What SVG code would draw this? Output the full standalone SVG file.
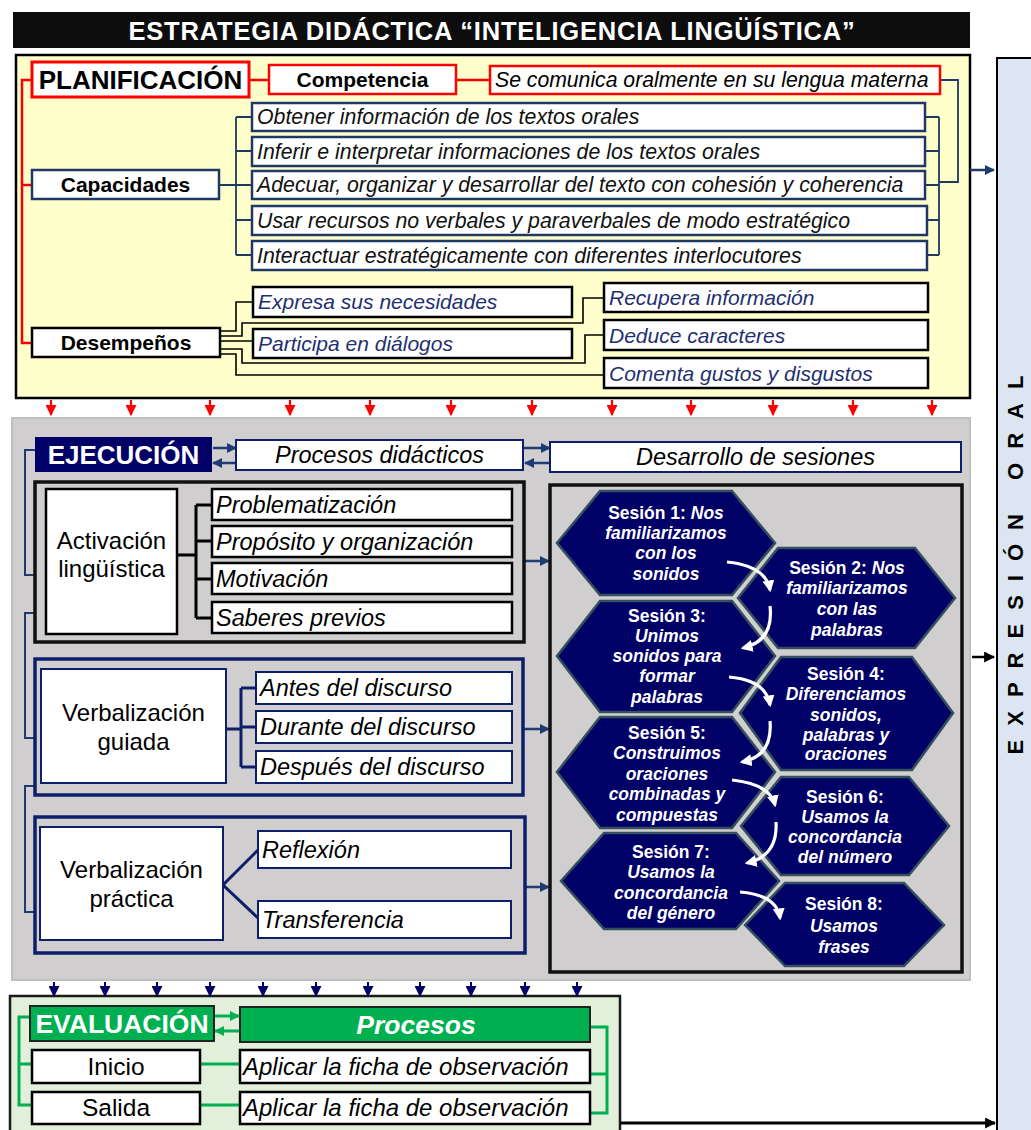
<svg xmlns="http://www.w3.org/2000/svg" width="1031" height="1130" viewBox="0 0 1031 1130">
<style>
text{font-family:"Liberation Sans",Arial,sans-serif}
.b{font-weight:bold}
.i{font-style:italic}
.m{text-anchor:middle}
.wb{fill:#fff;stroke:#000;stroke-width:2.5}
.cap{fill:#fff;stroke:#1F3864;stroke-width:2.5}
.nv{fill:#fff;stroke:#0D1F6B;stroke-width:2}
.ln{fill:none;stroke-linejoin:miter}
.hex{fill:#000066;stroke:#34505E;stroke-width:2.5}
.ht{fill:#fff;font-weight:bold;font-size:17.5px;text-anchor:middle}
.ht tspan.e{font-style:italic}
</style>
<defs>
<marker id="ar" viewBox="0 0 10 10" refX="9" refY="5" markerWidth="11" markerHeight="11" markerUnits="userSpaceOnUse" orient="auto"><path d="M0,0L10,5L0,10z" fill="#FF0000"/></marker>
<marker id="an" viewBox="0 0 10 10" refX="9" refY="5" markerWidth="11" markerHeight="11" markerUnits="userSpaceOnUse" orient="auto"><path d="M0,0L10,5L0,10z" fill="#000066"/></marker>
<marker id="ab" viewBox="0 0 10 10" refX="9" refY="5" markerWidth="10" markerHeight="10" markerUnits="userSpaceOnUse" orient="auto"><path d="M0,0L10,5L0,10z" fill="#1F3B73"/></marker>
<marker id="ak" viewBox="0 0 10 10" refX="9" refY="5" markerWidth="11" markerHeight="11" markerUnits="userSpaceOnUse" orient="auto"><path d="M0,0L10,5L0,10z" fill="#000"/></marker>
<marker id="ag" viewBox="0 0 10 10" refX="9" refY="5" markerWidth="10" markerHeight="10" markerUnits="userSpaceOnUse" orient="auto"><path d="M0,0L10,5L0,10z" fill="#00B050"/></marker>
<marker id="aw" viewBox="0 0 10 10" refX="8" refY="5" markerWidth="12" markerHeight="12" markerUnits="userSpaceOnUse" orient="auto"><path d="M0,0L10,5L0,10z" fill="#fff"/></marker>
</defs>

<!-- Backgrounds -->
<g id="title">
<rect x="13" y="12" width="957" height="36" fill="#0D0D0D"/>
<text x="492" y="40" class="b m" font-size="25.5" letter-spacing="0.8" fill="#fff">ESTRATEGIA DIDÁCTICA “INTELIGENCIA LINGÜÍSTICA”</text>
</g>
<rect id="plan-bg" x="16" y="55" width="954" height="343" fill="#FFFFCC" stroke="#000" stroke-width="2.5"/>
<rect id="ejec-bg" x="12" y="418" width="958" height="562" fill="#D0CECE" stroke="#BFBFBF" stroke-width="2"/>
<rect id="eval-bg" x="10" y="996" width="610" height="140" fill="#E2EFDA" stroke="#1a1a1a" stroke-width="2.5"/>
<g id="expresion-oral">
<rect x="997" y="58" width="40" height="1080" fill="#DCE6F2" stroke="#000" stroke-width="2"/>
<text transform="translate(1023,558) rotate(-90)" class="b m" font-size="22" letter-spacing="14" fill="#000">EXPRESIÓN ORAL</text>
</g>

<!-- Connectors -->
<g id="connectors">
<g class="ln" stroke="#FF0000" stroke-width="2.5">
<path d="M249,80H269M456,80H490M32,80H22V343H32M22,185H32"/>
</g>
<g class="ln" stroke="#1F3864" stroke-width="1.8">
<path d="M219,185H236M236,117V255M236,117H252M236,151H252M236,185H252M236,220H252M236,255H252"/>
<path d="M925,117H939M925,151H939M925,185H939M925,220H939M925,255H939M939,117V255M940,80H958V182H939"/>
<path d="M970,170H994" marker-end="url(#ab)" stroke-width="2.5"/>
</g>
<g class="ln" stroke="#000" stroke-width="1.6">
<path d="M220,331H236V302H253"/>
<path d="M220,336H242V323H583V298H604"/>
<path d="M220,341H253"/>
<path d="M220,349H242V363H585V335H604"/>
<path d="M220,354H236V375H604"/>
</g>
<g class="ln" stroke="#FF0000" stroke-width="2.2">
<path d="M51,400V415" marker-end="url(#ar)"/><path d="M131,400V415" marker-end="url(#ar)"/><path d="M210,400V415" marker-end="url(#ar)"/><path d="M290,400V415" marker-end="url(#ar)"/><path d="M370,400V415" marker-end="url(#ar)"/><path d="M451,400V415" marker-end="url(#ar)"/><path d="M532,400V415" marker-end="url(#ar)"/><path d="M612,400V415" marker-end="url(#ar)"/><path d="M691,400V415" marker-end="url(#ar)"/><path d="M773,400V415" marker-end="url(#ar)"/><path d="M853,400V415" marker-end="url(#ar)"/><path d="M932,400V415" marker-end="url(#ar)"/>
</g>
<g class="ln" stroke="#1F3B73" stroke-width="2.5">
<path d="M213,448H236" marker-end="url(#ab)"/><path d="M235,463H213" marker-end="url(#ab)"/>
<path d="M524,448H550" marker-end="url(#ab)"/><path d="M549,463H525" marker-end="url(#ab)"/>
<path d="M524,561H549" marker-end="url(#ab)"/>
<path d="M523,729H549" marker-end="url(#ab)"/>
<path d="M525,887H549" marker-end="url(#ab)"/>
</g>
<g class="ln" stroke="#1F3B73" stroke-width="2">
<path d="M35,450H25V575H35M35,613H25V738H35M35,786H25V912H35"/>
</g>
<g class="ln" stroke="#000" stroke-width="3">
<path d="M177,555H196M196,505V618M196,505H212M196,541H212M196,579H212M196,618H212"/>
</g>
<g class="ln" stroke="#0D1F6B" stroke-width="3">
<path d="M226,729H241M241,688V767M241,688H256M241,727H256M241,767H256"/>
<path d="M258,850L223,885L258,918"/>
</g>
<g class="ln" stroke="#000066" stroke-width="2">
<path d="M54,982V996" marker-end="url(#an)"/><path d="M105,982V996" marker-end="url(#an)"/><path d="M157,982V996" marker-end="url(#an)"/><path d="M210,982V996" marker-end="url(#an)"/><path d="M263,982V996" marker-end="url(#an)"/><path d="M316,982V996" marker-end="url(#an)"/><path d="M368,982V996" marker-end="url(#an)"/><path d="M420,982V996" marker-end="url(#an)"/><path d="M471,982V996" marker-end="url(#an)"/><path d="M525,982V996" marker-end="url(#an)"/><path d="M577,982V996" marker-end="url(#an)"/>
</g>
<g class="ln" stroke="#00B050" stroke-width="3">
<path d="M215,1016H239" marker-end="url(#ag)"/><path d="M239,1031H215" marker-end="url(#ag)"/>
<path d="M30,1017H19V1105H32M19,1064H32M200,1064H240M200,1105H240M590,1027H607V1113H590M590,1074H607"/>
</g>
<g class="ln" stroke="#000" stroke-width="2.5">
<path d="M972,657H994" marker-end="url(#ak)"/>
<path d="M620,1123H995" marker-end="url(#ak)" stroke-width="3"/>
</g>
</g>

<!-- Planificación nodes -->
<g id="planificacion">
<rect x="32" y="62" width="217" height="35" fill="#fff" stroke="#FF0000" stroke-width="3"/>
<text x="140.5" y="89" class="b m" font-size="26">PLANIFICACIÓN</text>
</g>
<g id="competencia">
<rect x="269" y="65" width="187" height="29" fill="#fff" stroke="#FF0000" stroke-width="2.5"/>
<text x="362.5" y="87" class="b m" font-size="21">Competencia</text>
</g>
<g id="se-comunica">
<rect x="490" y="66" width="450" height="28" fill="#fff" stroke="#FF0000" stroke-width="2.5"/>
<text x="495" y="87" class="i" font-size="21.2">Se comunica oralmente en su lengua materna</text>
</g>
<g id="capacidades">
<rect x="32" y="170" width="187" height="29" class="cap"/>
<text x="125.5" y="192" class="b m" font-size="21">Capacidades</text>
</g>
<g id="cap1"><rect x="252" y="103" width="673" height="28" class="cap"/><text x="257" y="124" class="i" font-size="21.3" fill="#111">Obtener información de los textos orales</text></g>
<g id="cap2"><rect x="252" y="137" width="673" height="29" class="cap"/><text x="257" y="159" class="i" font-size="21.3" fill="#111">Inferir e interpretar informaciones de los textos orales</text></g>
<g id="cap3"><rect x="252" y="171" width="673" height="28" class="cap"/><text x="257" y="192" class="i" font-size="21.3" fill="#111">Adecuar, organizar y desarrollar del texto con cohesión y coherencia</text></g>
<g id="cap4"><rect x="252" y="206" width="675" height="29" class="cap"/><text x="257" y="228" class="i" font-size="21.3" fill="#111">Usar recursos no verbales y paraverbales de modo estratégico</text></g>
<g id="cap5"><rect x="252" y="241" width="675" height="29" class="cap"/><text x="257" y="263" class="i" font-size="21.3" fill="#111">Interactuar estratégicamente con diferentes interlocutores</text></g>
<g id="desempenos">
<rect x="32" y="328" width="188" height="29" class="wb"/>
<text x="126" y="350" class="b m" font-size="21">Desempeños</text>
</g>
<g id="des1"><rect x="253" y="287" width="319" height="30" class="wb"/><text x="258" y="309" class="i" font-size="21" fill="#1F2F6F">Expresa sus necesidades</text></g>
<g id="des2"><rect x="253" y="329" width="319" height="29" class="wb"/><text x="258" y="351" class="i" font-size="21" fill="#1F2F6F">Participa en diálogos</text></g>
<g id="des3"><rect x="604" y="283" width="324" height="29" class="wb"/><text x="609" y="305" class="i" font-size="21" fill="#1F2F6F">Recupera información</text></g>
<g id="des4"><rect x="604" y="320" width="324" height="30" class="wb"/><text x="609" y="343" class="i" font-size="21" fill="#1F2F6F">Deduce caracteres</text></g>
<g id="des5"><rect x="604" y="358" width="324" height="30" class="wb"/><text x="609" y="381" class="i" font-size="21" fill="#1F2F6F">Comenta gustos y disgustos</text></g>

<!-- Ejecución nodes -->
<g id="ejecucion">
<rect x="35" y="437" width="177" height="35" fill="#000066"/>
<text x="123.5" y="464" class="b m" font-size="26" fill="#fff">EJECUCIÓN</text>
</g>
<g id="procesos-didacticos"><rect x="236" y="440" width="287" height="30" class="nv"/><text x="379.5" y="463" class="i m" font-size="23.5">Procesos didácticos</text></g>
<g id="desarrollo-sesiones"><rect x="550" y="442" width="411" height="30" class="nv"/><text x="755.5" y="465" class="i m" font-size="23.5">Desarrollo de sesiones</text></g>

<g id="activacion">
<rect x="35" y="482" width="489" height="160" fill="none" stroke="#111" stroke-width="3.5"/>
<rect x="46" y="489" width="131" height="145" class="wb" stroke-width="2"/>
<text x="111.5" y="549" class="m" font-size="24">Activación</text>
<text x="111.5" y="577" class="m" font-size="24">lingüística</text>
</g>
<g id="act1"><rect x="212" y="489" width="300" height="31" class="wb" stroke-width="2"/><text x="216" y="513" class="i" font-size="23.5">Problematización</text></g>
<g id="act2"><rect x="212" y="526" width="300" height="31" class="wb" stroke-width="2"/><text x="216" y="550" class="i" font-size="23.5">Propósito y organización</text></g>
<g id="act3"><rect x="212" y="563" width="300" height="31" class="wb" stroke-width="2"/><text x="216" y="587" class="i" font-size="23.5">Motivación</text></g>
<g id="act4"><rect x="212" y="602" width="300" height="31" class="wb" stroke-width="2"/><text x="216" y="626" class="i" font-size="23.5">Saberes previos</text></g>

<g id="verb-guiada">
<rect x="35" y="659" width="488" height="136" fill="none" stroke="#0D1F6B" stroke-width="3.5"/>
<rect x="41" y="669" width="185" height="114" class="nv"/>
<text x="133.5" y="721" class="m" font-size="24">Verbalización</text>
<text x="133.5" y="750" class="m" font-size="24">guiada</text>
</g>
<g id="vg1"><rect x="256" y="672" width="256" height="32" class="nv"/><text x="260" y="696" class="i" font-size="23.5">Antes del discurso</text></g>
<g id="vg2"><rect x="256" y="711" width="256" height="32" class="nv"/><text x="260" y="735" class="i" font-size="23.5">Durante del discurso</text></g>
<g id="vg3"><rect x="256" y="751" width="256" height="32" class="nv"/><text x="260" y="775" class="i" font-size="23.5">Después del discurso</text></g>

<g id="verb-practica">
<rect x="35" y="817" width="490" height="136" fill="none" stroke="#0D1F6B" stroke-width="3.5"/>
<rect x="40" y="827" width="183" height="113" class="nv"/>
<text x="131.5" y="878" class="m" font-size="24">Verbalización</text>
<text x="131.5" y="907" class="m" font-size="24">práctica</text>
</g>
<g id="vp1"><rect x="258" y="831" width="253" height="37" class="nv"/><text x="262" y="858" class="i" font-size="23.5">Reflexión</text></g>
<g id="vp2"><rect x="258" y="901" width="253" height="37" class="nv"/><text x="262" y="928" class="i" font-size="23.5">Transferencia</text></g>

<rect id="sesiones-frame" x="550" y="485" width="412" height="487" fill="none" stroke="#111" stroke-width="3.5"/>
<g id="s1"><polygon class="hex" points="557,543 600,491 732,491 775,543 732,595 600,595"/>
<text class="ht"><tspan x="666" y="519">Sesión 1: <tspan class="e">Nos</tspan></tspan><tspan x="666" y="539" class="e">familiarizamos</tspan><tspan x="666" y="559" class="e">con los</tspan><tspan x="666" y="580" class="e">sonidos</tspan></text></g>
<g id="s2"><polygon class="hex" points="738,598 778,548 915,548 955,598 915,648 778,648"/>
<text class="ht"><tspan x="847" y="574">Sesión 2: <tspan class="e">Nos</tspan></tspan><tspan x="847" y="594" class="e">familiarizamos</tspan><tspan x="847" y="615" class="e">con las</tspan><tspan x="847" y="636" class="e">palabras</tspan></text></g>
<g id="s3"><polygon class="hex" points="557,656 600,601 732,601 775,656 732,712 600,712"/>
<text class="ht"><tspan x="667" y="622">Sesión 3:</tspan><tspan x="667" y="642" class="e">Unimos</tspan><tspan x="667" y="662" class="e">sonidos para</tspan><tspan x="667" y="682" class="e">formar</tspan><tspan x="667" y="703" class="e">palabras</tspan></text></g>
<g id="s4"><polygon class="hex" points="740,713 781,657 912,657 953,713 912,770 781,770"/>
<text class="ht"><tspan x="846" y="680">Sesión 4:</tspan><tspan x="846" y="700" class="e">Diferenciamos</tspan><tspan x="846" y="721" class="e">sonidos,</tspan><tspan x="846" y="741" class="e">palabras y</tspan><tspan x="846" y="760" class="e">oraciones</tspan></text></g>
<g id="s5"><polygon class="hex" points="557,772 600,717 732,717 775,772 732,828 600,828"/>
<text class="ht"><tspan x="667" y="739">Sesión 5:</tspan><tspan x="667" y="759" class="e">Construimos</tspan><tspan x="667" y="780" class="e">oraciones</tspan><tspan x="667" y="800" class="e">combinadas y</tspan><tspan x="667" y="821" class="e">compuestas</tspan></text></g>
<g id="s6"><polygon class="hex" points="741,826 781,777 909,777 949,826 909,875 781,875"/>
<text class="ht"><tspan x="845" y="803">Sesión 6:</tspan><tspan x="845" y="823" class="e">Usamos la</tspan><tspan x="845" y="843" class="e">concordancia</tspan><tspan x="845" y="863" class="e">del número</tspan></text></g>
<g id="s7"><polygon class="hex" points="561,881 604,833 736,833 779,881 736,929 604,929"/>
<text class="ht"><tspan x="671" y="858">Sesión 7:</tspan><tspan x="671" y="878" class="e">Usamos la</tspan><tspan x="671" y="899" class="e">concordancia</tspan><tspan x="671" y="919" class="e">del género</tspan></text></g>
<g id="s8"><polygon class="hex" points="745,925 785,883 904,883 944,925 904,966 785,966"/>
<text class="ht"><tspan x="844" y="910">Sesión 8:</tspan><tspan x="844" y="932" class="e">Usamos</tspan><tspan x="844" y="953" class="e">frases</tspan></text></g>

<g id="session-arrows" class="ln" stroke="#fff" stroke-width="3.2">
<path d="M727,562Q766,566 770,590" marker-end="url(#aw)"/>
<path d="M770,606Q774,641 743,648" marker-end="url(#aw)"/>
<path d="M729,677Q766,680 770,705" marker-end="url(#aw)"/>
<path d="M770,721Q773,756 742,762" marker-end="url(#aw)"/>
<path d="M732,780Q770,784 775,805" marker-end="url(#aw)"/>
<path d="M776,822Q778,856 747,863" marker-end="url(#aw)"/>
<path d="M740,892Q777,895 780,918" marker-end="url(#aw)"/>
</g>

<!-- Evaluación nodes -->
<g id="evaluacion">
<rect x="30" y="1006" width="184" height="35" fill="#00B050" stroke="#222" stroke-width="2"/>
<text x="122" y="1033" class="b m" font-size="26.5" fill="#fff">EVALUACIÓN</text>
</g>
<g id="procesos"><rect x="240" y="1007" width="350" height="35" fill="#00B050" stroke="#222" stroke-width="2"/><text x="416" y="1034" class="b i m" font-size="26.5" fill="#fff">Procesos</text></g>
<g id="inicio"><rect x="32" y="1050" width="168" height="33" class="wb" stroke="#222"/><text x="116" y="1075" class="m" font-size="24.5">Inicio</text></g>
<g id="salida"><rect x="32" y="1092" width="168" height="32" class="wb" stroke="#222"/><text x="116" y="1116" class="m" font-size="24.5">Salida</text></g>
<g id="ficha1"><rect x="240" y="1050" width="350" height="33" class="wb" stroke="#222"/><text x="243" y="1075" class="i" font-size="24">Aplicar la ficha de observación</text></g>
<g id="ficha2"><rect x="240" y="1092" width="350" height="32" class="wb" stroke="#222"/><text x="243" y="1116" class="i" font-size="24">Aplicar la ficha de observación</text></g>
</svg>
